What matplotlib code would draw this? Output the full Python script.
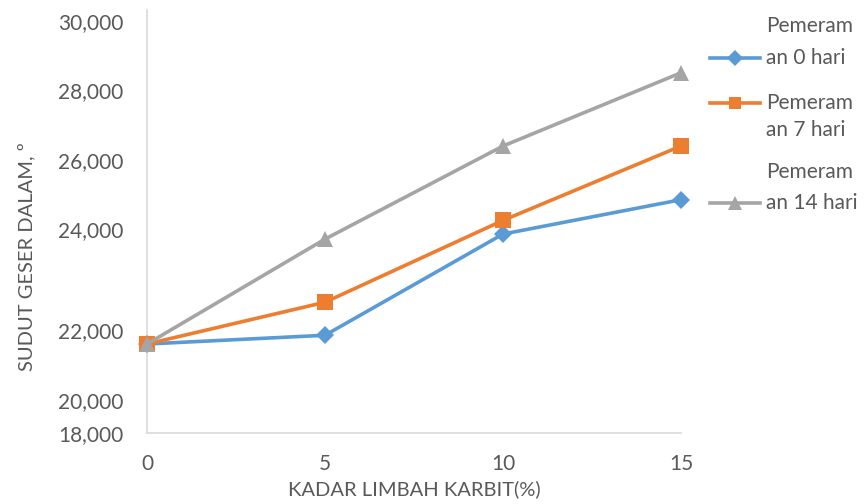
import numpy as np
import matplotlib
matplotlib.use("Agg")
import matplotlib.pyplot as plt
from matplotlib.lines import Line2D

# ---- data ----
x_labels = ["0", "5", "10", "15"]
series_names = ["Pemeram\nan 0 hari", "Pemeram\nan 7 hari", "Pemeram\nan 14 hari"]
hari_0 = [21.6, 21.85, 23.9, 24.85]
hari_7 = [21.6, 22.55, 24.25, 26.4]
hari_14 = [21.6, 23.8, 26.4, 28.5]
y_tick_values = [18, 20, 22, 24, 26, 28, 30]
y_tick_labels = ["18,000", "20,000", "22,000", "24,000", "26,000", "28,000", "30,000"]

# ---- irregular value axis of the original (piecewise scale) ----
scale_vals = np.array([18, 20, 22, 24, 26, 28, 30, 32], dtype=float)
scale_pos = np.array([0, 33, 103, 204, 273, 343, 412, 481], dtype=float)

def fwd(v):
    return np.interp(v, scale_vals, scale_pos)

def inv(p):
    return np.interp(p, scale_pos, scale_vals)

colors = ["#5B9BD5", "#ED7D31", "#A5A5A5"]
markers = ["D", "s", "^"]
msizes = [9, 11, 12]
txt_col = "#595959"
font = "Lato"
fs = 15

fig = plt.figure(figsize=(8.66, 5.04), dpi=100)
ax = fig.add_axes([147 / 866, 1 - 433 / 504, 534 / 866, 423 / 504])
ax.set_yscale("function", functions=(fwd, inv))

xs = np.arange(len(x_labels))
for vals, c, m, ms in zip([hari_0, hari_7, hari_14], colors, markers, msizes):
    ax.plot(xs, vals, color=c, lw=2.6, marker=m, markersize=ms,
            markeredgewidth=0, solid_capstyle="round", zorder=3, clip_on=False)

ax.set_xlim(0, 3)
ax.set_ylim(18, 30.32)
ax.set_xticks(xs)
ax.set_xticklabels(x_labels, fontsize=fs, color=txt_col, family=font)
ax.set_yticks(y_tick_values)
ax.set_yticklabels(y_tick_labels, fontsize=fs, color=txt_col, family=font)
ax.yaxis.set_minor_locator(matplotlib.ticker.NullLocator())
ax.tick_params(axis="both", length=0)
ax.tick_params(axis="x", pad=15)
ax.tick_params(axis="y", pad=17)
for s in ["top", "right"]:
    ax.spines[s].set_visible(False)
for s in ["left", "bottom"]:
    ax.spines[s].set_color("#D9D9D9")
    ax.spines[s].set_linewidth(1.2)

fig.text(414 / 866, 1 - 489 / 504, "KADAR LIMBAH KARBIT(%)", ha="center", va="center",
         fontsize=14.5, color=txt_col, family=font)
fig.text(27 / 866, 1 - 257 / 504, "SUDUT GESER DALAM, º", ha="center", va="center",
         rotation=90, fontsize=14.5, color=txt_col, family=font)

# ---- legend (placed as in the original) ----
leg_line_y = [58, 103, 203]
leg_text = [(26, 58), (103, 130), (172, 203)]
for i, name in enumerate(series_names):
    yl = 1 - leg_line_y[i] / 504
    fig.add_artist(Line2D([710 / 866, 760 / 866], [yl, yl], transform=fig.transFigure,
                          color=colors[i], lw=2.6))
    fig.add_artist(Line2D([735 / 866], [yl], transform=fig.transFigure, color=colors[i],
                          marker=markers[i], markersize=msizes[i] * 0.85, markeredgewidth=0,
                          lw=0))
    l1, l2 = name.split("\n")
    fig.text(766 / 866, 1 - leg_text[i][0] / 504, l1, ha="left", va="center",
             fontsize=fs, color=txt_col, family=font)
    fig.text(766 / 866, 1 - leg_text[i][1] / 504, l2, ha="left", va="center",
             fontsize=fs, color=txt_col, family=font)

fig.savefig("out.png", dpi=100)
